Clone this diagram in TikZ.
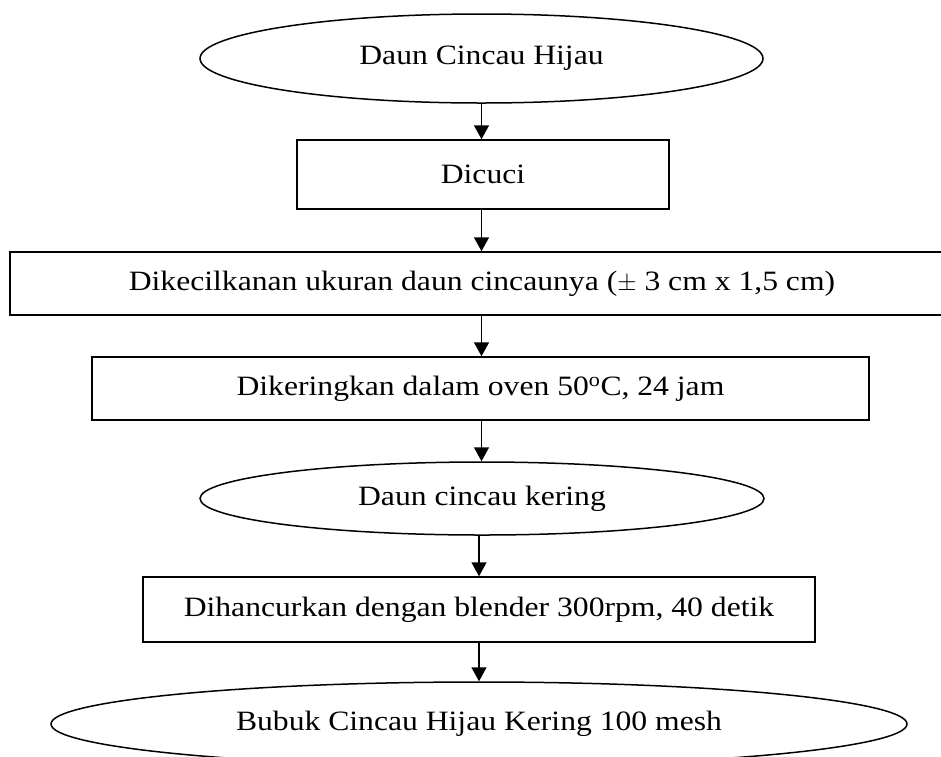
\documentclass[tikz,border=0pt]{standalone}
\usepackage{fontspec}
\setmainfont{Liberation Serif}[FakeStretch=1.13]
\usetikzlibrary{shapes.geometric,arrows.meta}
\tikzset{
  every node/.style={font=\fontsize{28}{32}\selectfont, inner sep=0pt, line width=1.5pt},
  procbox/.style={draw, rectangle},
  termbox/.style={draw, ellipse},
  arr/.style={line width=1.5pt, -{Triangle[length=14pt,width=15pt]}}
}
\begin{document}
\begin{tikzpicture}[x=1pt,y=-1pt]
\useasboundingbox (0,0) rectangle (941,756);
\clip (0,0) rectangle (941,756);
\node[termbox, minimum width=563pt, minimum height=89pt] (e1) at (481.5,58.5) {Daun Cincau Hijau};
\node[procbox, minimum width=372pt, minimum height=69pt] (b1) at (483,174.5) {Dicuci};
\node[procbox, minimum width=944pt, minimum height=63pt] (b2) at (482,283.5) {Dikecilkanan ukuran daun cincaunya ($\pm$ 3 cm x 1,5 cm)};
\node[procbox, minimum width=777pt, minimum height=63pt] (b3) at (480.5,388.5) {Dikeringkan dalam oven 50\textsuperscript{o}C, 24 jam};
\node[termbox, minimum width=564pt, minimum height=73pt] (e2) at (482,498.5) {Daun cincau kering};
\node[procbox, minimum width=672pt, minimum height=65pt] (b4) at (479,609.5) {Dihancurkan dengan blender 300rpm, 40 detik};
\node[termbox, minimum width=856pt, minimum height=84pt] (e3) at (479,724) {Bubuk Cincau Hijau Kering 100 mesh};
\draw[arr] (e1.south) -- (e1.south |- b1.north);
\draw[arr] (b1.south -| e1.south) -- (e1.south |- b2.north);
\draw[arr] (b2.south -| e1.south) -- (e1.south |- b3.north);
\draw[arr] (b3.south -| e1.south) -- (e1.south |- e2.north);
\draw[arr] (e2.south -| b4.north) -- (b4.north);
\draw[arr] (b4.south) -- (b4.south |- e3.north);
\end{tikzpicture}
\end{document}
